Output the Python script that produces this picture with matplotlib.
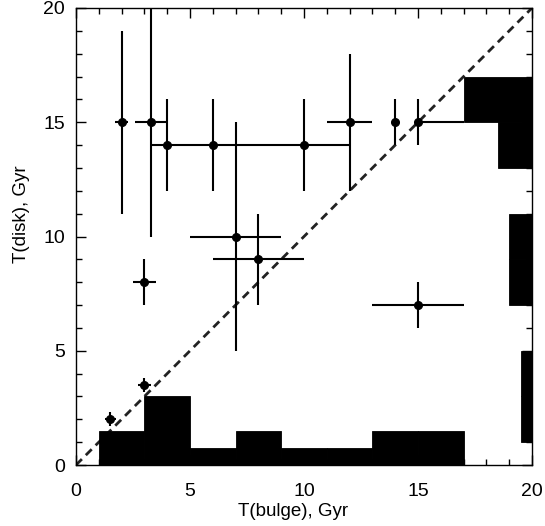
import matplotlib
matplotlib.use("Agg")
import matplotlib.pyplot as plt
import numpy as np

plt.rcParams['font.family'] = ['Liberation Sans', 'DejaVu Sans']

# Data points: bulge age, disk age with asymmetric errors
t_bulge = [2.0, 3.3, 4.0, 6.0, 10.0, 7.0, 8.0, 12.0, 14.0, 15.0, 3.0, 3.0, 1.5, 15.0]
t_disk = [15.0, 15.0, 14.0, 14.0, 14.0, 10.0, 9.0, 15.0, 15.0, 15.0, 8.0, 3.5, 2.0, 7.0]
xerr_lo = [0.3, 0.7, 0.0, 0.0, 6.7, 2.0, 2.0, 1.0, 0.0, 0.0, 0.5, 0.3, 0.25, 2.0]
xerr_hi = [0.3, 0.7, 0.0, 0.0, 2.0, 2.0, 2.0, 1.0, 0.0, 2.0, 0.5, 0.3, 0.25, 2.0]
yerr_lo = [4.0, 5.0, 2.0, 2.0, 2.0, 5.0, 2.0, 3.0, 1.0, 1.0, 1.0, 0.3, 0.3, 1.0]
yerr_hi = [4.0, 5.0, 2.0, 2.0, 2.0, 5.0, 2.0, 3.0, 1.0, 1.0, 1.0, 0.3, 0.3, 1.0]

# Bulge-age histogram (along bottom)
bulge_bin_left = [1, 3, 5, 7, 9, 11, 13, 15]
bulge_heights = [1.5, 3.0, 0.75, 1.5, 0.75, 0.75, 1.5, 1.5]
bulge_bin_width = 2

# Disk-age histogram (along right side)
disk_bin_bottom = [15, 13, 9, 7, 3, 1]
disk_widths = [3.0, 1.5, 1.0, 1.0, 0.5, 0.5]
disk_bin_height = 2

fig = plt.figure(figsize=(5.45, 5.26), dpi=100)
ax = fig.add_axes([76/545, 1-465/526, (532-76)/545, (465-8)/526])

ax.plot([0, 20], [0, 20], color='#222222', lw=2.0, dashes=(3, 2), zorder=1)

ax.bar(bulge_bin_left, bulge_heights, width=bulge_bin_width, align='edge',
       color='black', edgecolor='black', linewidth=0.6, zorder=2)
ax.barh(disk_bin_bottom, disk_widths, height=disk_bin_height, align='edge',
        left=20 - np.array(disk_widths), color='black', edgecolor='black',
        linewidth=0.6, zorder=2)

ax.errorbar(t_bulge, t_disk, xerr=[xerr_lo, xerr_hi], yerr=[yerr_lo, yerr_hi],
            fmt='o', color='black', ms=5.5, elinewidth=1.5, capsize=0, zorder=3)

ax.set_xlim(0, 20)
ax.set_ylim(0, 20)
ax.set_xticks([0, 5, 10, 15, 20])
ax.set_yticks([0, 5, 10, 15, 20])
ax.set_xticks(np.arange(0, 21, 1), minor=True)
ax.set_yticks(np.arange(0, 21, 1), minor=True)
ax.tick_params(which='both', direction='in', top=True, right=True, width=1.0)
ax.tick_params(which='major', length=7, labelsize=14)
ax.tick_params(axis='x', which='major', pad=13)
ax.tick_params(axis='y', which='major', pad=8)
ax.tick_params(which='minor', length=4)
for s in ax.spines.values():
    s.set_linewidth(1.0)

ax.set_xlabel('T(bulge), Gyr', fontsize=13.5)
ax.set_ylabel('T(disk), Gyr', fontsize=13.5)
ax.xaxis.set_label_coords((293 - 76) / 456, -(503 - 465) / 457)
ax.yaxis.set_label_coords(-(76 - 30) / 456, (465 - 214) / 457)

fig.savefig('out.png', dpi=100)
